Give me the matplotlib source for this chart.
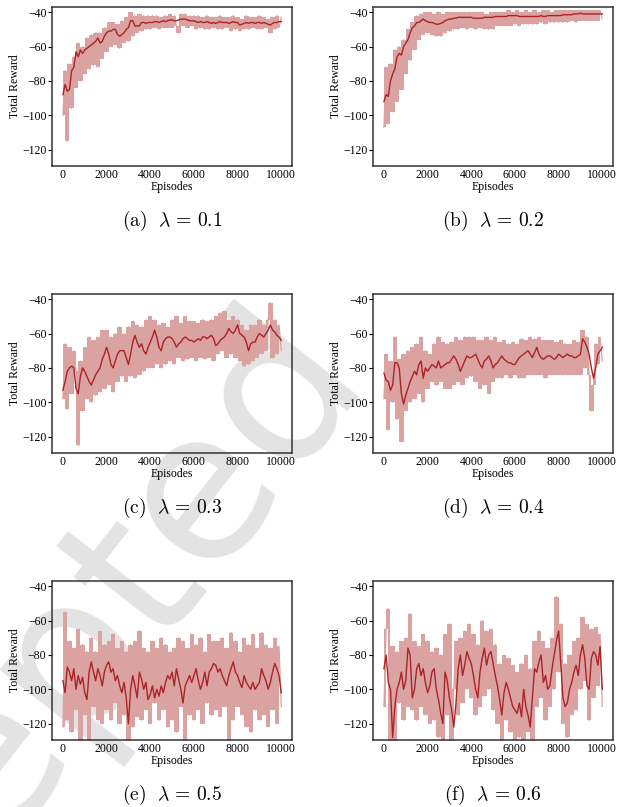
import numpy as np
import matplotlib.pyplot as plt

plt.rcParams['font.family'] = ['Liberation Serif', 'DejaVu Serif']
plt.rcParams['mathtext.fontset'] = 'cm'
plt.rcParams['axes.unicode_minus'] = True

# episodes sampled every 100
episodes = np.arange(0, 10001, 100)

# smoothed reward (dark line) and raw reward (light line) for each lambda
mean_a = [-88, -82, -86, -85, -74, -72, -63, -66, -62, -64,
          -62, -61, -60, -59, -58, -57, -55, -58, -57, -54,
          -52, -51, -51, -50, -50, -53, -54, -53, -52, -50,
          -49, -45, -45, -48, -48, -48, -46, -46, -46.5, -46,
          -46, -46, -45.5, -45.5, -46, -45.5, -45, -45.5, -45, -44.5,
          -44.5, -45, -45, -44.5, -44, -44, -44, -44.5, -45, -45,
          -45, -45.5, -46, -45.5, -46, -46, -45.5, -46, -46.5, -46,
          -46.5, -46, -45.5, -46, -46, -46, -46.5, -46, -45.5, -46,
          -46, -47.5, -47, -46.5, -46, -46.5, -46, -46, -46.5, -46,
          -46, -46.5, -46, -46.5, -47, -47.5, -46.5, -46, -46, -45.5, -45.5]
raw_a = [-100, -74, -115, -70, -96, -66, -84, -58, -80, -60,
         -76, -55, -73, -53, -71, -52, -72, -52, -67, -49,
         -63, -46, -60, -46, -59, -47, -61, -45, -58, -43,
         -57, -40, -54, -42, -52, -41, -51, -42, -50, -42,
         -50, -42, -49, -42, -50, -43, -49, -42, -49, -41,
         -49, -42, -48, -52, -41, -48, -41, -49, -42, -48,
         -42, -50, -42, -49, -43, -50, -42, -50, -43, -49,
         -43, -50, -42, -50, -43, -49, -43, -51, -42, -50,
         -43, -51, -44, -50, -42, -50, -43, -49, -43, -50,
         -42, -50, -43, -49, -44, -52, -43, -50, -42, -49, -43]

mean_b = [-92, -88, -89, -80, -76, -73, -66, -64, -65, -60,
          -58, -56, -52, -49, -48, -46, -46, -45, -44, -45,
          -45.5, -46, -46, -46.5, -47, -47, -46.5, -46, -45, -44.5,
          -44, -44, -43.5, -43.5, -43, -43, -43, -43, -43, -43,
          -43, -43.5, -43.5, -43.5, -43.5, -43.5, -43, -43, -43, -43,
          -43, -42.5, -42.5, -42.5, -42.5, -42.5, -42.5, -42, -42, -42,
          -42, -42, -42.5, -42.5, -42.5, -42.5, -42.5, -42.5, -42.5, -42.5,
          -42.5, -42.5, -42, -42.5, -42.5, -42, -42, -42, -42, -42,
          -42, -42, -41.5, -41.5, -41.5, -41.5, -41.5, -41, -41, -41,
          -40.5, -41, -41, -41, -41, -41, -41, -41, -41, -41, -41]
raw_b = [-107, -72, -105, -70, -98, -62, -92, -60, -85, -56,
         -76, -50, -68, -46, -62, -42, -56, -41, -53, -40,
         -52, -40, -53, -41, -54, -40, -54, -41, -52, -40,
         -51, -40, -50, -40, -50, -40, -49, -40, -50, -40,
         -49, -40, -50, -40, -49, -40, -50, -41, -50, -40,
         -50, -40, -48, -40, -48, -40, -48, -39, -48, -40,
         -47, -39, -48, -40, -47, -39, -47, -40, -47, -39,
         -47, -40, -46, -39, -47, -39, -46, -40, -46, -39,
         -46, -39, -46, -39, -46, -39, -45, -39, -46, -39,
         -45, -39, -45, -39, -45, -39, -45, -39, -45, -39, -44]

mean_c = [-93, -88, -82, -80, -79, -80, -92, -95, -85, -80,
          -82, -85, -88, -90, -87, -84, -82, -80, -75, -72,
          -68, -72, -78, -80, -76, -72, -70, -70, -70, -74,
          -78, -72, -65, -61, -65, -68, -66, -70, -72, -68,
          -65, -62, -58, -62, -68, -70, -65, -63, -62, -62,
          -63, -65, -68, -66, -65, -63, -62, -63, -64, -64,
          -65, -64, -63, -64, -62, -62, -63, -62, -61, -63,
          -67, -66, -64, -63, -62, -60, -57, -59, -60, -58,
          -55, -60, -61, -62, -65, -70, -66, -65, -65, -62,
          -60, -61, -62, -60, -58, -55, -58, -59, -61, -62, -64]
raw_c = [-98, -66, -104, -68, -95, -70, -82, -125, -76, -105,
         -68, -98, -62, -100, -64, -96, -62, -94, -58, -92,
         -58, -90, -62, -94, -60, -88, -56, -85, -60, -88,
         -56, -85, -53, -86, -55, -84, -56, -82, -52, -80,
         -50, -80, -52, -78, -55, -80, -54, -78, -56, -76,
         -52, -78, -50, -74, -54, -76, -50, -75, -53, -74,
         -53, -76, -54, -74, -52, -75, -53, -74, -52, -76,
         -50, -72, -48, -70, -47, -74, -52, -72, -50, -74,
         -52, -76, -55, -79, -58, -78, -55, -76, -55, -74,
         -52, -72, -55, -70, -52, -42, -74, -52, -72, -55, -70]

mean_d = [-83, -87, -88, -93, -90, -77, -77, -80, -95, -101,
          -96, -92, -88, -85, -82, -84, -78, -76, -86, -80,
          -82, -80, -78, -79, -80, -76, -80, -79, -78, -77,
          -77, -75, -73, -75, -78, -82, -79, -76, -73, -74,
          -74, -73, -72, -75, -78, -80, -76, -75, -73, -76,
          -80, -78, -77, -75, -73, -75, -76, -77, -77, -78,
          -78, -76, -74, -73, -72, -71, -70, -72, -74, -71,
          -68, -72, -74, -75, -74, -73, -73, -74, -75, -74,
          -72, -73, -74, -73, -72, -73, -73, -74, -74, -73,
          -72, -63, -65, -68, -72, -80, -86, -80, -72, -70, -68]
raw_d = [-98, -72, -116, -76, -100, -62, -110, -75, -123, -72,
         -105, -70, -100, -68, -98, -66, -95, -62, -100, -70,
         -92, -72, -88, -66, -90, -62, -88, -65, -92, -66,
         -92, -65, -90, -62, -88, -64, -90, -62, -86, -62,
         -85, -62, -88, -64, -92, -64, -90, -62, -95, -64,
         -88, -62, -86, -65, -86, -64, -84, -66, -86, -65,
         -84, -66, -86, -63, -86, -64, -84, -62, -84, -63,
         -84, -62, -84, -64, -86, -64, -84, -64, -84, -65,
         -84, -64, -84, -66, -84, -66, -84, -64, -84, -65,
         -84, -58, -80, -62, -84, -105, -90, -66, -78, -62, -76]

mean_e = [-95, -102, -87, -90, -95, -88, -100, -92, -97, -93,
          -102, -106, -90, -84, -90, -95, -88, -92, -98, -90,
          -86, -84, -90, -88, -95, -92, -98, -102, -96, -105,
          -120, -100, -92, -98, -105, -90, -94, -100, -96, -106,
          -103, -98, -105, -100, -104, -98, -102, -96, -92, -94,
          -90, -98, -88, -94, -100, -108, -98, -95, -92, -96,
          -92, -88, -95, -100, -96, -90, -98, -90, -88, -85,
          -86, -90, -88, -92, -95, -98, -92, -88, -84, -90,
          -92, -96, -99, -92, -96, -98, -100, -96, -100, -98,
          -96, -88, -92, -95, -100, -96, -90, -85, -88, -92, -102]
raw_e = [-122, -55, -118, -72, -125, -76, -112, -65, -132, -74,
         -115, -78, -135, -70, -110, -78, -118, -66, -120, -74,
         -112, -72, -118, -68, -108, -76, -120, -72, -115, -78,
         -135, -74, -122, -72, -116, -66, -118, -76, -112, -78,
         -120, -72, -108, -76, -118, -70, -112, -74, -122, -78,
         -118, -76, -125, -70, -110, -72, -135, -76, -115, -68,
         -118, -74, -112, -70, -120, -78, -108, -68, -115, -72,
         -112, -72, -116, -70, -110, -76, -132, -67, -118, -72,
         -110, -78, -115, -70, -122, -74, -125, -68, -112, -76,
         -118, -67, -115, -74, -122, -76, -112, -70, -120, -75, -110]

mean_f = [-88, -80, -96, -100, -128, -110, -100, -96, -90, -100,
          -95, -76, -80, -105, -100, -88, -85, -92, -88, -96,
          -102, -98, -90, -88, -100, -106, -114, -120, -90, -95,
          -105, -112, -122, -108, -88, -80, -92, -86, -78, -82,
          -85, -92, -100, -105, -90, -82, -76, -86, -80, -78,
          -85, -92, -98, -106, -115, -102, -96, -100, -105, -110,
          -112, -114, -108, -116, -100, -110, -115, -122, -105, -88,
          -90, -84, -80, -96, -92, -100, -98, -88, -80, -72,
          -66, -85, -105, -110, -108, -100, -96, -90, -86, -92,
          -80, -74, -82, -98, -100, -82, -78, -80, -86, -75, -100]
raw_f = [-110, -65, -53, -130, -75, -135, -78, -108, -72, -118,
         -70, -110, -56, -112, -72, -118, -75, -110, -68, -115,
         -72, -120, -78, -118, -76, -128, -80, -135, -68, -115,
         -62, -135, -100, -72, -115, -70, -108, -66, -100, -62,
         -105, -68, -115, -74, -110, -60, -104, -66, -100, -65,
         -112, -74, -120, -85, -135, -80, -118, -82, -125, -86,
         -130, -90, -128, -85, -132, -80, -125, -88, -135, -72,
         -110, -66, -105, -72, -118, -76, -110, -70, -100, -46,
         -90, -62, -120, -85, -128, -80, -115, -72, -112, -70,
         -100, -58, -95, -62, -118, -65, -105, -64, -98, -68, -110]

captions = ['(a)', '(b)', '(c)', '(d)', '(e)', '(f)']
lambdas = ['0.1', '0.2', '0.3', '0.4', '0.5', '0.6']
means = [mean_a, mean_b, mean_c, mean_d, mean_e, mean_f]
raws = [raw_a, raw_b, raw_c, raw_d, raw_e, raw_f]

fig = plt.figure(figsize=(6.19, 8.07), dpi=100)

# watermark behind the panels
fig.text(0.60, 0.53, 'Accepted', family='DejaVu Sans', fontsize=150,
         color='#e3e3e3', rotation=52, rotation_mode='anchor',
         ha='right', va='baseline', zorder=-1)

lefts = [0.084, 0.6026]
bottoms = [0.7943, 0.4387, 0.083]
w, h = 0.388, 0.197

for i in range(6):
    ax = fig.add_axes([lefts[i % 2], bottoms[i // 2], w, h])
    ax.set_facecolor('none')
    r = np.array(raws[i], dtype=float)
    # range covered by consecutive raw samples
    ax.fill_between(episodes[:-1], r[:-1], r[1:], step='post', color='#dba2a2', lw=0)
    ax.plot(episodes, r, color='#dba2a2', lw=0.9)
    ax.plot(episodes, means[i], color='#ab2326', lw=1.0)
    ax.set_xlim(-500, 10500)
    ax.set_ylim(-129.5, -37)
    ax.set_xticks([0, 2000, 4000, 6000, 8000, 10000])
    ax.set_yticks([-40, -60, -80, -100, -120])
    ax.tick_params(axis='y', length=3, width=0.8, pad=1, labelsize=8.5)
    ax.tick_params(axis='x', length=0, pad=2, labelsize=8.5)
    for s in ax.spines.values():
        s.set_color('#333333')
        s.set_linewidth(1.1)
    ax.set_xlabel('Episodes', fontsize=8.5, labelpad=0)
    ax.set_ylabel('Total Reward', fontsize=8.5, labelpad=1)
    cx = lefts[i % 2] + w / 2
    cy = bottoms[i // 2] - 0.068
    fig.text(cx, cy, r'$\mathrm{' + captions[i] + r'}\ \ \lambda \,=\, ' + lambdas[i] + '$',
             fontsize=14, ha='center', va='center')

plt.savefig('out.png', dpi=100)
